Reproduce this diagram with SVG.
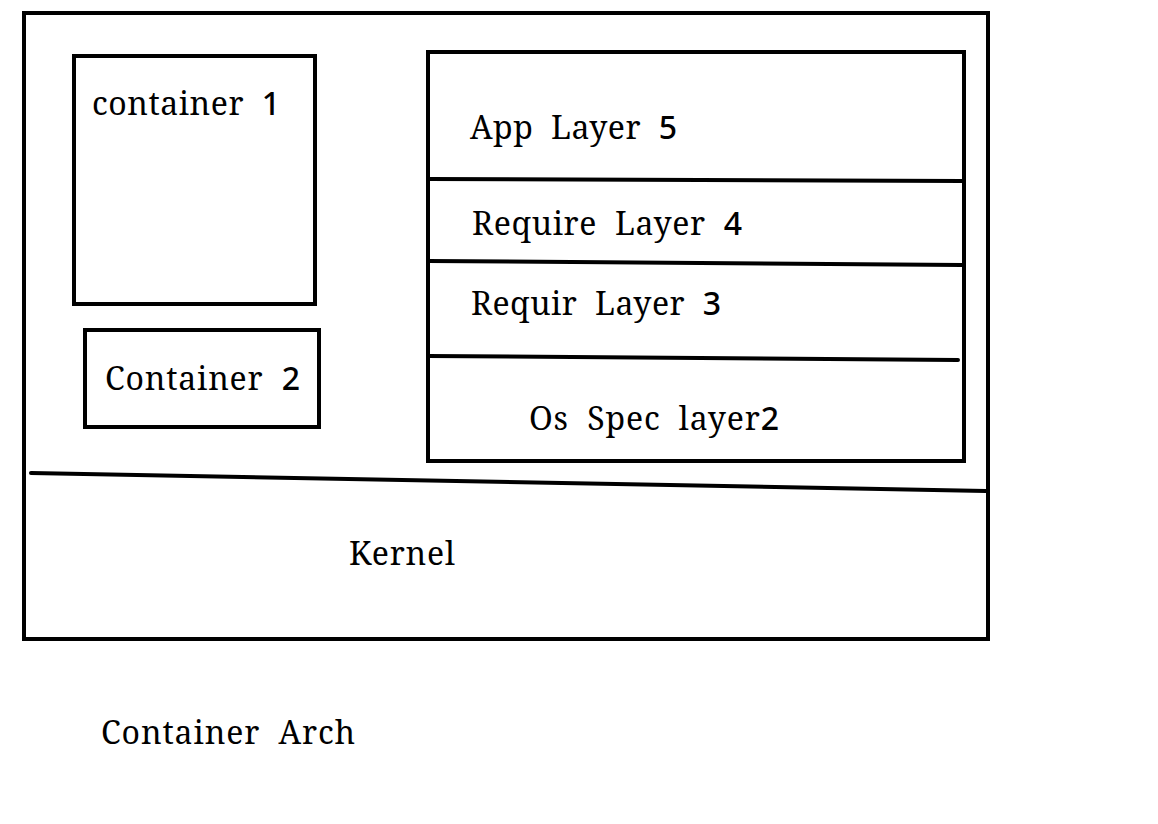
<svg xmlns="http://www.w3.org/2000/svg" width="1158" height="824" viewBox="0 0 1158 824">
<style>
.b{fill:none;stroke:#000;stroke-width:4}
.l{stroke:#000;stroke-width:4;stroke-linecap:round}
.t{font-family:"Noto Serif","DejaVu Serif","Liberation Serif",serif;font-size:32px;fill:#000;white-space:pre}
.d{font-family:"Noto Sans","DejaVu Sans",sans-serif;font-weight:500}
</style>
<rect width="1158" height="824" fill="#fff"/>
<g id="outer"><rect class="b" x="24" y="13" width="964" height="626"/></g>
<g id="container1"><rect class="b" x="74" y="56" width="241" height="248"/><text class="t" x="92" y="115" textLength="188" lengthAdjust="spacing">container  <tspan class="d">1</tspan></text></g>
<g id="container2"><rect class="b" x="85" y="330" width="234" height="97"/><text class="t" x="105" y="390" textLength="195" lengthAdjust="spacing">Container  <tspan class="d">2</tspan></text></g>
<g id="layers"><rect class="b" x="428" y="52" width="536" height="409"/>
<text class="t" x="470" y="139" textLength="207" lengthAdjust="spacing">App  Layer  <tspan class="d">5</tspan></text>
<text class="t" x="472" y="235" textLength="270" lengthAdjust="spacing">Require  Layer  <tspan class="d">4</tspan></text>
<text class="t" x="471" y="315" textLength="250" lengthAdjust="spacing">Requir  Layer  <tspan class="d">3</tspan></text>
<text class="t" x="529" y="430" textLength="250" lengthAdjust="spacing">Os  Spec  layer<tspan class="d">2</tspan></text>
</g>
<g id="kernel"><text class="t" x="349" y="565" textLength="106" lengthAdjust="spacing">Kernel</text></g>
<g id="title"><text class="t" x="101" y="744" textLength="254" lengthAdjust="spacing">Container  Arch</text></g>
<g id="connectors">
<line class="l" x1="428" y1="179" x2="962" y2="181"/>
<line class="l" x1="428" y1="261" x2="962" y2="265"/>
<line class="l" x1="428" y1="356" x2="958" y2="360"/>
<line class="l" x1="31" y1="473" x2="986" y2="491"/>
</g>
</svg>
